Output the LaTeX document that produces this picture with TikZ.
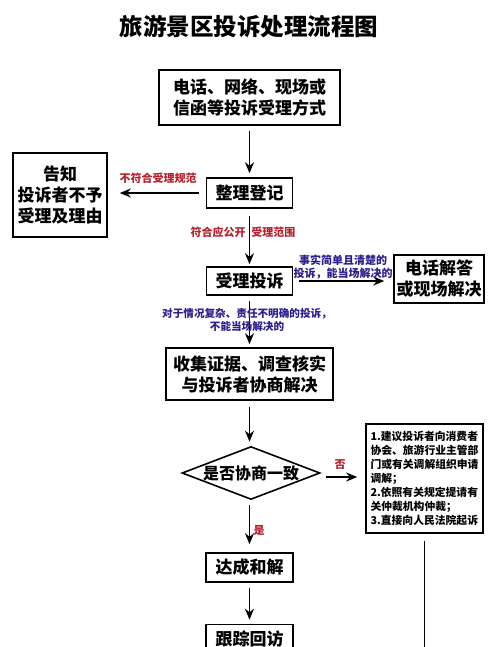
\documentclass[tikz,border=0pt]{standalone}
\usepackage{fontspec}
\setmainfont{Noto Sans CJK SC}
\usepackage{xcolor}
\definecolor{noteRed}{HTML}{B8202E}
\definecolor{noteBlue}{HTML}{2B1E8C}
\usepackage{tikz}
\usetikzlibrary{shapes.geometric, arrows.meta, positioning}

\begin{document}
\begin{tikzpicture}[
    x=1pt, y=-1pt,
    stepBox/.style={draw, line width=1.6pt, align=center, inner sep=0pt, font=\fontsize{17}{21}\selectfont\bfseries},
    decideBox/.style={draw, diamond, shape aspect=2.6, line width=1.6pt, inner sep=0pt, minimum width=138pt, minimum height=53pt, font=\fontsize{16}{20}\selectfont\bfseries},
    listBox/.style={draw, line width=1.6pt, align=left, inner sep=3pt, minimum width=117pt, minimum height=109pt, font=\fontsize{10.8}{14}\selectfont\bfseries},
    flowArrow/.style={line width=1.7pt, -{Stealth[length=11pt, width=9pt]}},
    redNote/.style={text=noteRed, inner sep=0pt, font=\fontsize{11}{13}\selectfont\bfseries},
    blueNote/.style={text=noteBlue, inner sep=0pt, align=center, font=\fontsize{11}{13.5}\selectfont\bfseries}
]
\useasboundingbox (0,0) rectangle (500,647);

% Title
\node[font=\fontsize{23.5}{27}\selectfont\bfseries] (title) at (249,27) {旅游景区投诉处理流程图};

% Main column
\node[stepBox, minimum width=181pt, minimum height=55pt] (src) at (249.5,97.5) {电话、网络、现场或\\信函等投诉受理方式};
\node[stepBox, minimum width=86pt, minimum height=30pt] (reg) at (249.5,193) {整理登记};
\node[stepBox, minimum width=86pt, minimum height=28pt] (accept) at (249.5,281) {受理投诉};
\node[stepBox, minimum width=167pt, minimum height=52pt] (collect) at (249.5,374) {收集证据、调查核实\\与投诉者协商解决};
\node[decideBox] (agree) at (251,473) {是否协商一致};
\node[stepBox, minimum width=87pt, minimum height=29pt] (settle) at (249.5,567.5) {达成和解};
\node[stepBox, minimum width=87pt, minimum height=29pt] (follow) at (249.5,639) {跟踪回访};

% Side boxes
\node[stepBox, minimum width=94pt, minimum height=84pt] (reject) at (60,195) {告知\\投诉者不予\\受理及理由};
\node[stepBox, minimum width=90pt, minimum height=48pt] (quick) at (439,279) {电话解答\\或现场解决};
\node[listBox] (other) at (424.5,478.5) {1.建议投诉者向消费者\\协会、旅游行业主管部\\门或有关调解组织申请\\调解；\\2.依照有关规定提请有\\关仲裁机构仲裁；\\3.直接向人民法院起诉};
\coordinate (otherEnd) at (424.5,647);

% Connectors
\draw[flowArrow, shorten <=5pt, shorten >=4pt] (src) -- (reg);
\draw[flowArrow, shorten <=7pt, shorten >=12pt] (reg.west) -- (reject.east |- reg.west);
\draw[flowArrow, shorten <=7pt, shorten >=2pt] (reg) -- (accept);
\draw[flowArrow, shorten <=6pt, shorten >=9pt] (accept) -- (quick.west |- accept);
\draw[flowArrow, shorten <=5pt, shorten >=3pt] (accept) -- (collect);
\draw[flowArrow, shorten <=6pt, shorten >=4pt] (collect) -- (collect |- agree.north);
\draw[flowArrow, shorten <=5pt, shorten >=8pt] (agree.east |- 0,477) -- (other.west |- 0,477);
\draw[flowArrow, shorten <=5pt, shorten >=8pt] (settle |- agree.south) -- (settle);
\draw[flowArrow, shorten <=5pt, shorten >=4pt] (settle) -- (follow);
\draw[line width=1.6pt, shorten <=7pt] (other) -- (otherEnd);

% Labels
\node[redNote] (noRule) at (158,178) {不符合受理规范};
\node[redNote] (okRule) at (243,232) {符合应公开\hspace{6pt}受理范围};
\node[blueNote] (easyCase) at (343,267) {事实简单且清楚的\\投诉，能当场解决的};
\node[blueNote, font=\fontsize{10.6}{13.5}\selectfont\bfseries] (hardCase) at (247,320) {对于情况复杂、责任不明确的投诉，\\不能当场解决的};
\node[redNote] (noLabel) at (340,465) {否};
\node[redNote] (yesLabel) at (259,530) {是};

\end{tikzpicture}
\end{document}
